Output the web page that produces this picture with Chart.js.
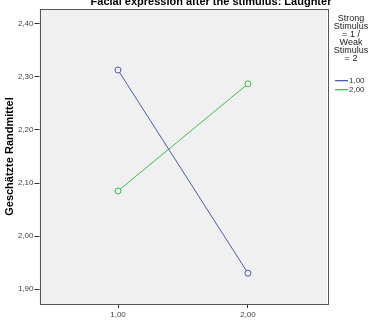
<!DOCTYPE html>
<html>
<head>
<meta charset="utf-8">
<script src="https://cdn.jsdelivr.net/npm/chart.js@4"></script>
<style>
html,body{margin:0;padding:0;background:#fff;}
#wrap{position:relative;width:373px;height:327px;}
</style>
</head>
<body>
<div id="wrap"><canvas id="chart1" width="373" height="327"></canvas></div>
<script>
// data
const categories = [1, 2]
const strongValues = [2.313, 1.930]   // 1,00
const weakValues = [2.085, 2.287]     // 2,00
const seriesNames = ['1,00', '2,00']
const yTicks = [1.9, 2.0, 2.1, 2.2, 2.3, 2.4]
const xTicks = [1, 2]
const chartTitle = 'Facial expression after the stimulus: Laughter'
const yTitle = 'Geschätzte Randmittel'
const legendTitle = ['Strong', 'Stimulus', '= 1 /', 'Weak', 'Stimulus', '= 2']

const colors = ['#4a5db0', '#3cbf4c']
const fmt = v => v.toFixed(2).replace('.', ',')

const frame = {
    id: 'frame',
    beforeDatasetsDraw(chart) {
        const {ctx, chartArea: a} = chart
        ctx.save()
        ctx.fillStyle = '#f0f0f0'
        ctx.fillRect(a.left, a.top, a.right - a.left, a.bottom - a.top)
        ctx.restore()
    },
    afterDraw(chart) {
        const {ctx, chartArea: a} = chart
        ctx.save()
        ctx.strokeStyle = '#555'
        ctx.lineWidth = 1
        ctx.strokeRect(Math.round(a.left) + 0.5, Math.round(a.top) + 0.5, Math.round(a.right - a.left), Math.round(a.bottom - a.top))
        // title (cut at the top like the picture)
        ctx.fillStyle = '#000'
        ctx.font = 'bold 11px "Liberation Sans", Arial, sans-serif'
        ctx.textAlign = 'center'
        ctx.textBaseline = 'alphabetic'
        ctx.fillText(chartTitle, 211, 5)
        // y axis title
        ctx.save()
        ctx.translate(13, (a.top + a.bottom) / 2)
        ctx.rotate(-Math.PI / 2)
        ctx.fillText(yTitle, 0, 0)
        ctx.restore()
        // legend
        ctx.font = '9px "Liberation Sans", Arial, sans-serif'
        ctx.fillStyle = '#222'
        legendTitle.forEach((t, i) => ctx.fillText(t, 351, 21 + i * 8))
        ctx.textAlign = 'left'
        ctx.font = '8px "Liberation Sans", Arial, sans-serif'
        seriesNames.forEach((n, i) => {
            const y = 80 + i * 9
            ctx.fillStyle = colors[i]
            ctx.fillRect(335, y, 13, 1.3)
            ctx.fillStyle = '#333'
            ctx.fillText(n, 349, y + 3)
        })
        ctx.restore()
    }
}

const ctx = document.getElementById('chart1').getContext('2d')
new Chart(ctx, {
    type: 'line',
    data: {
        datasets: [strongValues, weakValues].map((vals, i) => ({
            label: seriesNames[i],
            data: categories.map((c, j) => ({x: c, y: vals[j]})),
            borderColor: colors[i],
            borderWidth: 1,
            pointRadius: 3,
            pointBorderWidth: 1,
            pointBackgroundColor: '#f0f0f0',
            pointBorderColor: colors[i],
            tension: 0
        }))
    },
    options: {
        responsive: false,
        animation: false,
        layout: {padding: {top: 9, right: 46, left: 0, bottom: 0}},
        plugins: {legend: {display: false}, tooltip: {enabled: false}},
        scales: {
            x: {
                type: 'linear',
                min: 0.396, max: 2.608,
                afterBuildTicks: s => { s.ticks = xTicks.map(v => ({value: v})) },
                afterFit: s => { s.height = 23 },
                grid: {drawOnChartArea: false, tickLength: 4, color: '#333'},
                border: {display: false},
                ticks: {callback: v => fmt(v), font: {size: 8, family: '"Liberation Sans", Arial'}, color: '#444', padding: 2, maxRotation: 0}
            },
            y: {
                min: 1.872, max: 2.428,
                afterBuildTicks: s => { s.ticks = yTicks.map(v => ({value: v})) },
                afterFit: s => { s.width = 39.5 },
                grid: {drawOnChartArea: false, tickLength: 5, color: '#333'},
                border: {display: false},
                ticks: {callback: v => fmt(v), font: {size: 8, family: '"Liberation Sans", Arial'}, color: '#444', padding: 1}
            }
        }
    },
    plugins: [frame]
})
</script>
</body>
</html>
